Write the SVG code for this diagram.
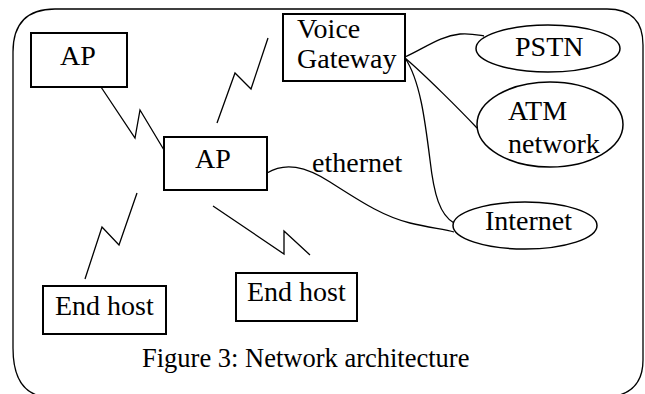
<svg xmlns="http://www.w3.org/2000/svg" width="645" height="394" viewBox="0 0 645 394" font-family="'Liberation Serif','Times New Roman',serif">
<style>
text{font-family:"Liberation Serif","Times New Roman",serif;font-size:28px;fill:#000}
.box{fill:#fff;stroke:#000;stroke-width:2}
.ell{fill:#fff;stroke:#000;stroke-width:1.5}
.ln{fill:none;stroke:#000;stroke-width:1.3}
</style>
<rect width="645" height="394" fill="#fff"/>
<path id="frame" class="ln" d="M55,9 L607,9 Q643,9 643,45 L643,360 Q643,393 610,397 L45,397 Q13,393 13,348 L13,52 Q13,9 55,9 Z"/>
<g id="connectors">
<polyline class="ln" points="101,87 135,138 140,110 164,150"/>
<polyline class="ln" points="217,123 235,73 251,89 268,38"/>
<polyline class="ln" points="85,279 102,227 119,245 137,193"/>
<polyline class="ln" points="213,206 284,254 284,231 310,255"/>
<path class="ln" d="M267,173 C285,162 305,166 330,182 C360,201 382,216 410,223 C430,228 445,229 454,232"/>
<path class="ln" d="M405,57 C425,48 440,36 460,34 C470,33 478,35 484,36"/>
<path class="ln" d="M405,58 C425,75 460,110 477,128"/>
<path class="ln" d="M405,58 C420,80 425,120 430,160 C434,195 440,215 454,223"/>
</g>
<g id="ap1"><rect class="box" x="31" y="33" width="96" height="54"/><text x="60" y="65">AP</text></g>
<g id="ap2"><rect class="box" x="164" y="137" width="103" height="53"/><text x="195" y="168">AP</text></g>
<g id="gateway"><rect class="box" x="283" y="14" width="122" height="67"/><text x="297" y="38">Voice</text><text x="297" y="68">Gateway</text></g>
<g id="pstn"><ellipse class="ell" cx="548" cy="48.5" rx="72" ry="23.5"/><text x="515" y="56">PSTN</text></g>
<g id="atm"><ellipse class="ell" cx="550" cy="124.5" rx="73" ry="42.5"/><text x="508" y="120">ATM</text><text x="508" y="153">network</text></g>
<g id="internet"><ellipse class="ell" cx="525" cy="225.5" rx="72" ry="23.5"/><text x="485" y="230">Internet</text></g>
<g id="host1"><rect class="box" x="43" y="286" width="123" height="48"/><text x="55" y="315">End host</text></g>
<g id="host2"><rect class="box" x="236" y="273" width="121" height="48"/><text x="247" y="301">End host</text></g>
<text x="312" y="172">ethernet</text>
<text x="142" y="367" style="font-size:26.5px">Figure 3: Network architecture</text>
</svg>
